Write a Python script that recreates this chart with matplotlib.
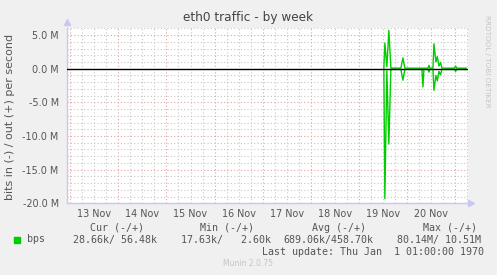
import matplotlib

matplotlib.use("Agg")
import matplotlib.pyplot as plt  # noqa: E402
from matplotlib.ticker import FixedLocator, FuncFormatter, MultipleLocator  # noqa: E402

# hours counted from 13 Nov 00:00
HOURS = [156.5, 157.0, 158.0, 159.0, 160.0, 165.0, 166.0, 167.0, 175.5, 176.0,
         176.5, 178.5, 179.0, 179.5, 181.0, 181.5, 182.5, 183.2, 184.0, 184.8,
         185.5, 191.8, 192.3, 192.8, 197.5]
OUT_M = [0.08, 3.8, 0.3, 5.7, 0.1, 0.08, 1.6, 0.08, 0.08, 0.08,
         0.08, 0.08, 0.5, 0.08, 0.08, 3.7, 1.0, 1.8, 0.4, 0.9,
         0.08, 0.08, 0.4, 0.08, 0.08]
IN_M = [-0.1, -19.3, -0.3, -11.2, -0.1, -0.1, -1.7, -0.1, -0.1, -2.7,
        -0.1, -0.1, -0.5, -0.1, -0.1, -3.2, -1.0, -1.8, -0.4, -0.9,
        -0.1, -0.1, -0.4, -0.1, -0.1]
DAY_LABELS = ["13 Nov", "14 Nov", "15 Nov", "16 Nov", "17 Nov", "18 Nov", "19 Nov", "20 Nov"]
Y_TICKS = [5, 0, -5, -10, -15, -20]

LEGEND_HEAD = [("Cur (-/+)", 90), ("Min (-/+)", 200), ("Avg (-/+)", 312), ("Max (-/+)", 423)]
LEGEND_VALS = [("28.66k/ 56.48k", 73), ("17.63k/   2.60k", 181),
               ("689.06k/458.70k", 283), ("80.14M/ 10.51M", 397)]

W, H = 497, 275
BG = "#f0f0f0"
GREEN = "#00cc00"
AXIS = "#c8c8f4"
TEXT = "#555555"

fig = plt.figure(figsize=(W / 100, H / 100), dpi=100, facecolor=BG)
ax = fig.add_axes([67 / W, (H - 203.3) / H, (467.7 - 67) / W, (203.3 - 28) / H])
ax.set_facecolor("white")

ax.set_xlim(-1.65, 198.35)
ax.set_ylim(-20, 6.05)

ax.xaxis.set_major_locator(MultipleLocator(24))
ax.xaxis.set_minor_locator(MultipleLocator(6))
ax.yaxis.set_major_locator(FixedLocator(Y_TICKS))
ax.yaxis.set_minor_locator(MultipleLocator(1))


def day_label(h, _pos):
    if round(h) % 24 == 12:
        i = int(round(h) // 24)
        if 0 <= i < len(DAY_LABELS):
            return DAY_LABELS[i]
    return ""


ax.xaxis.set_major_formatter(FuncFormatter(lambda h, p: ""))
ax.xaxis.set_minor_formatter(FuncFormatter(day_label))
ax.yaxis.set_major_formatter(FuncFormatter(lambda v, p: f"{v:.1f} M"))

ax.grid(which="minor", color="#c8c8c8", linestyle=(0, (1, 2)), linewidth=0.8)
ax.grid(which="major", color="#e6a0a0", linestyle=(0, (1, 2)), linewidth=0.8)
ax.set_axisbelow(True)

ax.tick_params(which="both", length=0, colors=TEXT, labelsize=6.9)
ax.tick_params(axis="x", which="minor", pad=4)
ax.tick_params(axis="y", pad=6)

for side in ("top", "right"):
    ax.spines[side].set_visible(False)
for side in ("left", "bottom"):
    ax.spines[side].set_color(AXIS)
    ax.spines[side].set_linewidth(1.0)

ax.plot(HOURS, OUT_M, color=GREEN, linewidth=1.0, zorder=3)
ax.plot(HOURS, IN_M, color=GREEN, linewidth=1.0, zorder=3)
ax.axhline(0, color="black", linewidth=1.0, zorder=4)

# axis arrow heads
ax.plot([0], [1.035], transform=ax.transAxes, marker="^", markersize=4,
        color=AXIS, clip_on=False)
ax.plot([1.007], [0], transform=ax.transAxes, marker=">", markersize=4,
        color=AXIS, clip_on=False)

ax.set_ylabel("bits in (-) / out (+) per second", fontsize=8.0, color=TEXT)
ax.yaxis.set_label_coords(-52 / (467.7 - 67), 0.49)

fig.text(248 / W, 1 - 18 / H, "eth0 traffic - by week", ha="center", va="center",
         fontsize=8.7, color="#444444")
fig.text(487 / W, 1 - 15 / H, "RRDTOOL / TOBI OETIKER", rotation=-90, ha="center",
         va="top", fontsize=5.2, color="#c4c4c4")

mono = dict(family="DejaVu Sans Mono", fontsize=7.2, color=TEXT, va="center", ha="left")
for label, x in LEGEND_HEAD:
    fig.text(x / W, 1 - 228 / H, label, **mono)
fig.patches.append(plt.Rectangle((14 / W, 1 - 242.5 / H), 6 / W, 6 / H,
                                 transform=fig.transFigure, color=GREEN))
fig.text(26.5 / W, 1 - 239.5 / H, "bps", **mono)
for label, x in LEGEND_VALS:
    fig.text(x / W, 1 - 239.5 / H, label, **mono)
fig.text(261.5 / W, 1 - 251.7 / H, "Last update: Thu Jan  1 01:00:00 1970", **mono)
fig.text(223 / W, 1 - 264 / H, "Munin 2.0.75", fontsize=5.5, color="#c4c4c4",
         ha="left", va="center")

fig.savefig("out.png", dpi=100, facecolor=BG)
